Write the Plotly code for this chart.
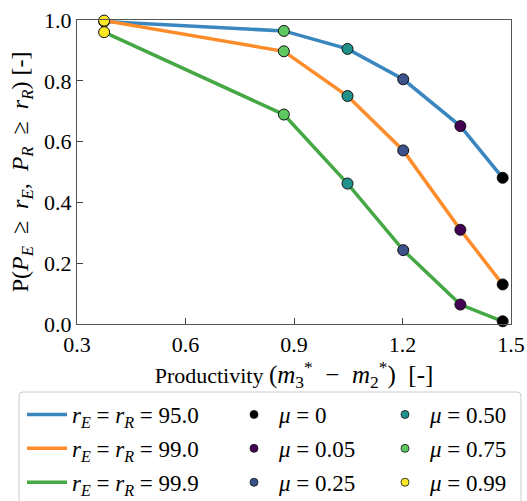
import plotly.graph_objects as go

mu_values = [0, 0.05, 0.25, 0.50, 0.75, 0.99]
mu_labels = ["0", "0.05", "0.25", "0.50", "0.75", "0.99"]
mu_colors = ["#000000", "#440154", "#3b528b", "#21918c", "#5ec962", "#fde725"]
productivity = [1.477, 1.360, 1.202, 1.048, 0.872, 0.375]

series_names = ["95.0", "99.0", "99.9"]
series_colors = ["#3a87c0", "#ff8c2a", "#45a845"]
prob_95 = [0.481, 0.651, 0.805, 0.905, 0.964, 0.995]
prob_99 = [0.130, 0.310, 0.571, 0.750, 0.897, 0.998]
prob_999 = [0.009, 0.064, 0.243, 0.462, 0.689, 0.960]
series_values = [prob_95, prob_99, prob_999]

FONT = "Liberation Serif, Times New Roman, serif"

W, H = 527, 501
ML, MR, MT, MB = 77, 16, 20, 177
PW, PH = W - ML - MR, H - MT - MB


def px_x(px):
    return (px - ML) / PW


def px_y(py):
    return (H - MB - py) / PH


fig = go.Figure()

for i, (name, col, vals) in enumerate(zip(series_names, series_colors, series_values)):
    fig.add_trace(go.Scatter(
        x=productivity, y=vals, mode="lines",
        line=dict(color=col, width=3.5),
        name=f"<i>r<sub>E</sub></i> = <i>r<sub>R</sub></i> = {name}",
        legend="legend", legendgroup=f"s{i}",
        cliponaxis=False,
    ))

# data markers (drawn on top of lines, not shown in legend)
for i, (mu, lab, col) in enumerate(zip(mu_values, mu_labels, mu_colors)):
    fig.add_trace(go.Scatter(
        x=[productivity[i]] * len(series_values),
        y=[s[i] for s in series_values],
        mode="markers",
        marker=dict(color=col, size=11, line=dict(color="#111111", width=1)),
        name=f"<i>μ</i> = {lab}",
        showlegend=False,
        legendgroup=f"m{i}",
        cliponaxis=False,
    ))

# legend entries for mu (smaller symbol, as in the reference legend)
for i, (mu, lab, col) in enumerate(zip(mu_values, mu_labels, mu_colors)):
    fig.add_trace(go.Scatter(
        x=[None], y=[None],
        mode="markers",
        marker=dict(color=col, size=8, line=dict(color="#111111", width=0.8)),
        name=f"<i>μ</i> = {lab}",
        legend="legend2" if i < 3 else "legend3",
        legendgroup=f"m{i}",
    ))

leg_common = dict(
    orientation="v", xanchor="left", yanchor="top",
    xref="paper", yref="paper",
    bgcolor="rgba(0,0,0,0)", borderwidth=0,
    font=dict(family=FONT, size=23, color="black"),
    traceorder="grouped", tracegroupgap=1, itemwidth=40,
)
leg_top = px_y(393)

# rounded legend frame
x0, x1 = px_x(19), px_x(521)
y0, y1 = px_y(392), px_y(512)
rx, ry = 4 / PW, 4 / PH
frame = (f"M{x0+rx},{y0} L{x1-rx},{y0} Q{x1},{y0} {x1},{y0-ry} "
         f"L{x1},{y1+ry} Q{x1},{y1} {x1-rx},{y1} "
         f"L{x0+rx},{y1} Q{x0},{y1} {x0},{y1+ry} "
         f"L{x0},{y0-ry} Q{x0},{y0} {x0+rx},{y0} Z")

fig.update_layout(
    width=W, height=H,
    margin=dict(l=ML, r=MR, t=MT, b=MB, autoexpand=False),
    paper_bgcolor="white", plot_bgcolor="white",
    font=dict(family=FONT, size=22, color="black"),
    showlegend=True,
    legend=dict(x=px_x(22), y=leg_top, **leg_common),
    legend2=dict(x=px_x(229), y=leg_top, **leg_common),
    legend3=dict(x=px_x(380), y=leg_top, **leg_common),
    shapes=[dict(type="path", path=frame, xref="paper", yref="paper",
                 line=dict(color="#cccccc", width=1), fillcolor="rgba(255,255,255,0.8)",
                 layer="below")],
)

fig.update_xaxes(
    range=[0.3, 1.5],
    tickvals=[0.3, 0.6, 0.9, 1.2, 1.5],
    ticktext=["0.3", "0.6", "0.9", "1.2", "1.5"],
    ticks="inside", ticklen=6, tickcolor="#444444",
    showline=True, linecolor="#555555", linewidth=1.3, mirror=True,
    showgrid=False, zeroline=False, automargin=False,
    tickfont=dict(size=22),
    title=dict(text="Productivity <span style=\"font-size:25px\">(<i>m</i><sub>3</sub><sup>*</sup>  −  "
                    "<i>m</i><sub>2</sub><sup>*</sup>)  [-]</span>",
               font=dict(size=22), standoff=0),
)
fig.update_yaxes(
    range=[0, 1.0],
    tickvals=[0, 0.2, 0.4, 0.6, 0.8, 1.0],
    ticktext=["0.0", "0.2", "0.4", "0.6", "0.8", "1.0"],
    ticks="inside", ticklen=6, tickcolor="#444444",
    showline=True, linecolor="#555555", linewidth=1.3, mirror=True,
    showgrid=False, zeroline=False, automargin=False,
    tickfont=dict(size=22),
    title=dict(text="P(<i>P<sub>E</sub></i>  ≥  <i>r<sub>E</sub></i>,  <i>P<sub>R</sub></i>  ≥  <i>r<sub>R</sub></i>) [-]",
               font=dict(size=24), standoff=8),
)

fig.write_html("out.html")
